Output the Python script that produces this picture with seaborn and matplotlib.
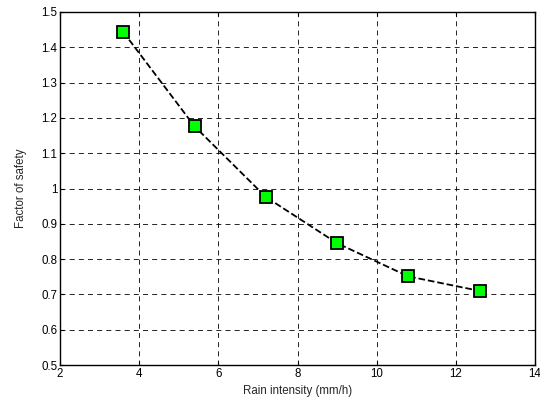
import matplotlib
matplotlib.use("Agg")
import matplotlib.pyplot as plt
import seaborn as sns
import pandas as pd

rain_intensity = [3.6, 5.4, 7.2, 9.0, 10.8, 12.6]
factor_of_safety = [1.443, 1.176, 0.976, 0.845, 0.751, 0.710]
x_ticks = [2, 4, 6, 8, 10, 12, 14]
y_ticks = [0.5, 0.6, 0.7, 0.8, 0.9, 1.0, 1.1, 1.2, 1.3, 1.4, 1.5]
y_labels = ["0.5", "0.6", "0.7", "0.8", "0.9", "1", "1.1", "1.2", "1.3", "1.4", "1.5"]

sns.set_style("white")
plt.rcParams['font.family'] = ['Liberation Sans', 'DejaVu Sans']

df = pd.DataFrame({"x": rain_intensity, "y": factor_of_safety})

fig = plt.figure(figsize=(5.4, 4.07), dpi=100)
ax = fig.add_axes([60/540, 1 - 365/407, 475/540, 353/407])
sns.lineplot(data=df, x="x", y="y", ax=ax, color="black", linestyle="--",
             linewidth=1.3, marker="s", markersize=8, markerfacecolor="#00ff00",
             markeredgecolor="black", markeredgewidth=1.3, dashes=(3, 2))
ax.set_xlim(2, 14)
ax.set_ylim(0.5, 1.5)
ax.set_xticks(x_ticks)
ax.set_yticks(y_ticks)
ax.set_yticklabels(y_labels)
ax.grid(True, color="black", linestyle=(0, (6, 5)), linewidth=0.6)
for s in ax.spines.values():
    s.set_color("black")
    s.set_linewidth(1.0)
ax.tick_params(axis="both", labelsize=8.3, direction="in", length=3, colors="black",
               top=True, right=True, bottom=True, left=True, pad=2)
ax.set_xlabel("Rain intensity (mm/h)", fontsize=8.3, labelpad=4)
ax.set_ylabel("Factor of safety", fontsize=8.3, labelpad=10)
fig.savefig("out.png", dpi=100)
